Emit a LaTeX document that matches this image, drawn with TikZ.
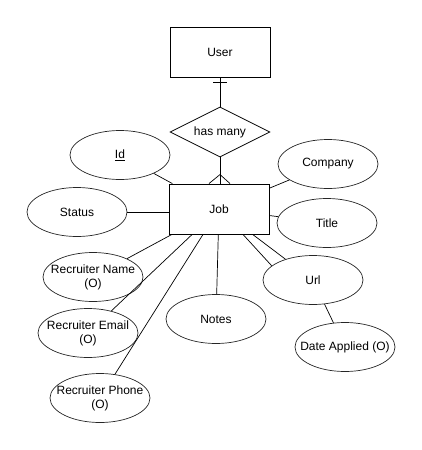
\documentclass[tikz,border=0pt]{standalone}
\usepackage{fontspec}
\setmainfont{Liberation Sans}
\usepackage{tikz}
\usetikzlibrary{shapes.geometric,positioning,calc}
\tikzstyle{entitybox}=[rectangle, draw=black, line width=0.9pt, minimum width=100pt, minimum height=50pt, inner sep=0pt, font=\fontsize{12pt}{14pt}\selectfont]
\tikzstyle{relnode}=[diamond, draw=black, line width=0.8pt, minimum width=100pt, minimum height=50pt, inner xsep=-20pt, inner ysep=-8pt, font=\fontsize{12pt}{14pt}\selectfont]
\tikzstyle{attrnode}=[ellipse, draw=black!85, line width=0.7pt, minimum width=100pt, minimum height=49pt, inner xsep=-22pt, inner ysep=-8pt, align=center, font=\fontsize{12pt}{14pt}\selectfont]
\tikzstyle{attrline}=[line width=0.7pt, color=black]

\begin{document}
\begin{tikzpicture}[x=1pt, y=-1pt]
        \useasboundingbox (0,0) rectangle (421,450);

        % Entidades e relação
        \node[entitybox] (user) at (220, 52) {User};
        \node[relnode] (hasmany) at (220, 132) {has many};
        \node[entitybox] (job) at (219, 209) {Job};

        % Atributos
        \node[attrnode] (id) at (120, 155) {\underline{Id}};
        \node[attrnode] (status) at (77, 212) {Status};
        \node[attrnode] (company) at (328, 164) {Company};
        \node[attrnode] (title) at (327, 223) {Title};
        \node[attrnode] (recname) at (93, 277) {Recruiter Name\\(O)};
        \node[attrnode] (recemail) at (88, 333) {Recruiter Email\\(O)};
        \node[attrnode] (recphone) at (100, 398) {Recruiter Phone\\(O)};
        \node[attrnode] (notes) at (216, 319) {Notes};
        \node[attrnode] (url) at (313, 280) {Url};
        \node[attrnode] (dateapplied) at (345, 347) {Date Applied (O)};

        % Relacionamento User -- Job
        \draw[attrline] (user.south) -- (hasmany.north);
        \draw[attrline] ([xshift=-7pt,yshift=-5pt]user.south) -- ([xshift=7pt,yshift=-5pt]user.south);
        \draw[attrline] (hasmany.south) -- ([xshift=1pt]job.north);
        \draw[attrline] ([xshift=-10pt]job.north) -- ([xshift=1pt,yshift=9pt]job.north) -- ([xshift=11pt]job.north);

        % Ligações dos atributos
        \draw[attrline] (job) -- (id);
        \draw[attrline] (job.west |- status) -- (status);
        \draw[attrline] (job) -- (company);
        \draw[attrline] (job) -- (title);
        \draw[attrline] (job) -- (recname);
        \draw[attrline] (job) -- (recemail);
        \draw[attrline] (job) -- (recphone);
        \draw[attrline] (job) -- (notes);
        \draw[attrline] (job) -- (url);
        \draw[attrline] ([xshift=24pt]job.south) -- (url.161);
        \draw[attrline] (url) -- (dateapplied);
      \end{tikzpicture}
\end{document}
